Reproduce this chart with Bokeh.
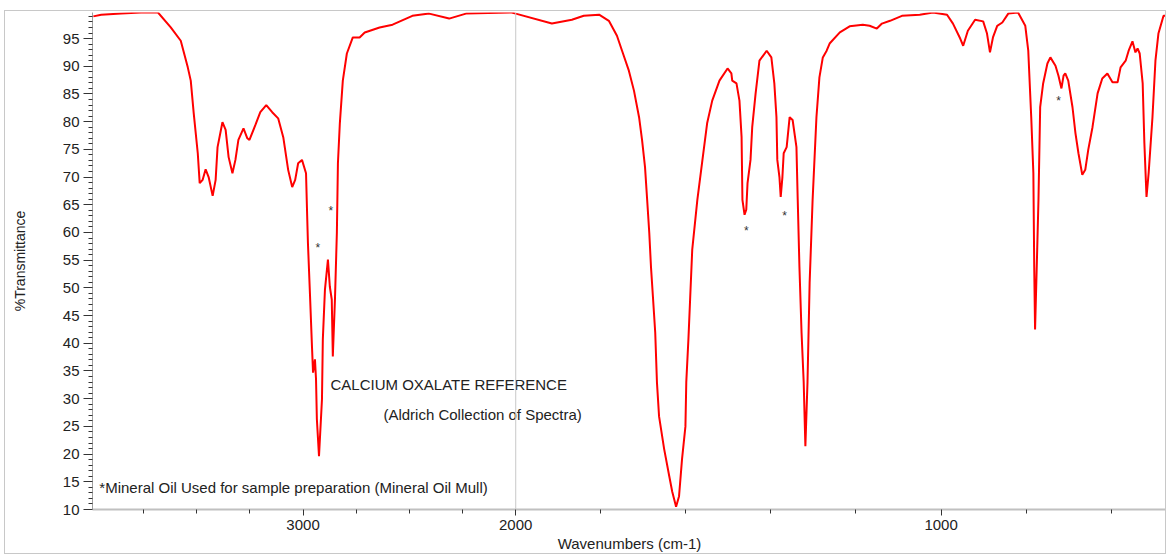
import numpy as np
from bokeh.plotting import figure
from bokeh.models import Range1d, FixedTicker, Span, ColumnDataSource
from bokeh.core.properties import value
from bokeh.embed import file_html
from bokeh.resources import INLINE

# ---------------- data ----------------
wavenumber = [3986, 3949, 3855, 3762, 3682, 3622, 3575, 3542, 3528, 3514, 3495, 3486, 3472, 3458,
              3444, 3425, 3411, 3402, 3379, 3364, 3350, 3332, 3318, 3304, 3280, 3262, 3252, 3224,
              3201, 3173, 3145, 3117, 3093, 3070, 3051, 3037, 3023, 3005, 2986, 2981, 2977, 2967,
              2958, 2953, 2944, 2939, 2935, 2925, 2911, 2907, 2897, 2883, 2874, 2865, 2860, 2850,
              2841, 2836, 2827, 2813, 2794, 2766, 2734, 2710, 2640, 2579, 2486, 2407, 2313, 2234,
              2019, 2000, 1915, 1868, 1840, 1804, 1781, 1762, 1750, 1734, 1722, 1710, 1703, 1696,
              1691, 1686, 1682, 1677, 1672, 1668, 1663, 1651, 1639, 1632, 1623, 1616, 1609, 1601,
              1599, 1594, 1590, 1585, 1573, 1561, 1550, 1538, 1521, 1502, 1493, 1491, 1481, 1474,
              1469, 1467, 1462, 1458, 1455, 1448, 1444, 1436, 1427, 1410, 1399, 1392, 1387, 1385,
              1380, 1377, 1373, 1370, 1363, 1356, 1349, 1340, 1337, 1333, 1328, 1323, 1319, 1314,
              1309, 1302, 1293, 1286, 1278, 1269, 1262, 1238, 1215, 1184, 1168, 1151, 1139, 1120,
              1092, 1050, 1019, 986, 972, 955, 948, 937, 920, 901, 892, 885, 878, 868, 856, 842,
              819, 802, 795, 788, 783, 781, 779, 774, 771, 767, 760, 750, 743, 731, 724, 717, 712,
              708, 701, 691, 684, 677, 668, 661, 654, 644, 632, 621, 609, 597, 585, 578, 566, 559,
              550, 543, 538, 533, 526, 522, 517, 512, 503, 496, 489, 477, 470]
transmittance = [99.0, 99.3, 99.5, 99.7, 99.7, 97.0, 94.6, 89.8, 87.4, 81.5, 74.3, 68.9, 69.5, 71.4,
                 70.0, 66.6, 69.5, 75.4, 79.9, 78.5, 73.6, 70.7, 73.1, 76.7, 78.8, 77.0, 76.7, 79.4,
                 81.7, 83.0, 81.7, 80.6, 77.2, 71.3, 68.2, 69.5, 72.5, 73.1, 70.7, 63.5, 58.1, 48.4,
                 39.4, 34.7, 37.1, 33.5, 26.3, 19.6, 29.9, 40.7, 49.7, 55.1, 50.2, 47.9, 37.6, 47.9,
                 59.9, 72.5, 79.7, 87.4, 92.3, 95.2, 95.2, 96.1, 97.0, 97.5, 99.1, 99.5, 98.6, 99.5,
                 99.7, 99.5, 97.7, 98.4, 99.1, 99.3, 98.2, 95.5, 92.8, 89.2, 85.6, 80.8, 76.7, 71.8,
                 65.9, 59.9, 53.8, 47.9, 41.9, 33.0, 26.8, 20.9, 16.0, 13.2, 10.5, 12.4, 19.1, 25.0,
                 33.0, 40.7, 47.9, 56.9, 65.9, 73.1, 79.7, 83.8, 87.4, 89.6, 88.7, 87.4, 86.9, 83.8,
                 77.2, 65.9, 63.2, 64.1, 68.9, 73.1, 79.0, 85.1, 91.0, 92.8, 91.6, 86.9, 80.8, 73.1,
                 70.0, 66.4, 70.0, 74.3, 75.4, 80.8, 80.3, 75.4, 65.9, 53.8, 41.9, 33.0, 21.4, 33.0,
                 50.9, 65.9, 80.8, 88.0, 91.6, 92.8, 94.1, 96.1, 97.2, 97.5, 97.3, 96.8, 97.7, 98.2,
                 99.1, 99.3, 99.7, 99.3, 97.7, 95.0, 93.7, 96.4, 98.4, 98.1, 95.9, 92.5, 95.2, 97.3, 97.9, 99.5,
                 99.7, 97.3, 92.8, 80.8, 70.7, 53.8, 42.5, 56.9, 65.9, 82.6, 86.9, 90.5, 91.6, 90.1, 88.3, 86.0, 88.3,
                 88.7, 87.4, 82.6, 77.9, 74.3, 70.4, 71.3, 74.9, 79.0, 85.1, 87.8, 88.7, 87.1, 87.1, 89.8, 91.0, 92.8,
                 94.5, 92.5, 93.2, 92.3, 86.9, 76.1, 66.4, 70.7, 80.8, 91.0, 95.9, 99.1, 99.1]

x_major_ticks = [3000, 2000, 1000]
x_minor_ticks = [3750, 3500, 3250, 2750, 2500, 2250, 1800, 1600, 1400, 1200, 800, 600]
y_major_ticks = list(range(10, 100, 5))
y_minor_ticks = [v for v in range(10, 100) if v % 5]
x_limits = [3990, 470]
y_limits = [10, 99.7]

note_wn = [2871, 2622, 3958]
note_T = [32.6, 27.2, 13.9]
note_text = ["CALCIUM OXALATE REFERENCE", "(Aldrich Collection of Spectra)",
             "*Mineral Oil Used for sample preparation (Mineral Oil Mull)"]
star_wn = [2930, 2869, 1458, 1368, 724]
star_T = [57.2, 63.9, 60.3, 63.0, 83.7]

SCALE_BREAK = 2000


def to_axis(w):
    """OMNIC-style axis: region below 2000 cm-1 is expanded 2x."""
    w = np.asarray(w, dtype=float)
    return np.where(w >= SCALE_BREAK, SCALE_BREAK - w, 2.0 * (SCALE_BREAK - w))


FONT = "Liberation Sans"

p = figure(width=1162, height=544, output_backend="svg", toolbar_location=None,
           x_range=Range1d(float(to_axis(x_limits[0])), float(to_axis(x_limits[1]))),
           y_range=Range1d(*y_limits),
           min_border_left=87, min_border_right=1, min_border_top=1, min_border_bottom=46,
           background_fill_color="white", border_fill_color="white")
p.margin = (10, 0, 0, 4)
p.styles = {"border": "1px solid #c8c8c8"}
p.outline_line_color = None
p.grid.visible = False

# scale-change marker at 2000 cm-1
p.add_layout(Span(location=float(to_axis(SCALE_BREAK)), dimension="height",
                  line_color="#c8c8c8", line_width=1))

src = ColumnDataSource(dict(x=to_axis(wavenumber), y=transmittance))
p.line("x", "y", source=src, line_color="#ff0000", line_width=2)

# x axis
xt = [float(v) for v in to_axis(x_major_ticks)]
p.xaxis.ticker = FixedTicker(ticks=xt, minor_ticks=[float(v) for v in to_axis(x_minor_ticks)])
p.xaxis.major_label_overrides = {t: str(w) for t, w in zip(xt, x_major_ticks)}
p.xaxis.axis_label = "Wavenumbers (cm-1)"
p.xaxis.axis_line_color = "#c0c0c0"
p.xaxis.axis_line_width = 2
p.xaxis.major_tick_out = 6
p.xaxis.major_tick_in = 0
p.xaxis.minor_tick_out = 4
p.xaxis.minor_tick_in = 0
p.xaxis.major_label_standoff = 4
p.xaxis.axis_label_standoff = 2

# y axis
p.yaxis.ticker = FixedTicker(ticks=y_major_ticks, minor_ticks=y_minor_ticks)
p.yaxis.axis_label = "%Transmittance"
p.yaxis.axis_line_color = "#a0a0a0"
p.yaxis.major_tick_out = 9
p.yaxis.major_tick_in = 0
p.yaxis.minor_tick_out = 4
p.yaxis.minor_tick_in = 0
p.yaxis.major_label_standoff = 4
p.yaxis.axis_label_standoff = 32

for ax in (p.xaxis, p.yaxis):
    ax.major_tick_line_color = "#333333"
    ax.minor_tick_line_color = "#333333"
    ax.major_label_text_font = FONT
    ax.major_label_text_font_size = "15px"
    ax.major_label_text_color = "#222222"
    ax.axis_label_text_font = FONT
    ax.axis_label_text_font_style = "normal"
    ax.axis_label_text_color = "#222222"
p.xaxis.axis_label_text_font_size = "15px"
p.yaxis.axis_label_text_font_size = "14px"

p.text(x=to_axis(note_wn), y=note_T, text=note_text, text_font=value(FONT),
       text_font_size="15px", text_color="#222222", text_align="left", text_baseline="middle")
p.text(x=to_axis(star_wn), y=star_T, text=["*"] * len(star_wn), text_font=value(FONT),
       text_font_size="12px", text_color="#333333", text_align="center", text_baseline="middle")

open("out.html", "w").write(file_html(p, INLINE))
